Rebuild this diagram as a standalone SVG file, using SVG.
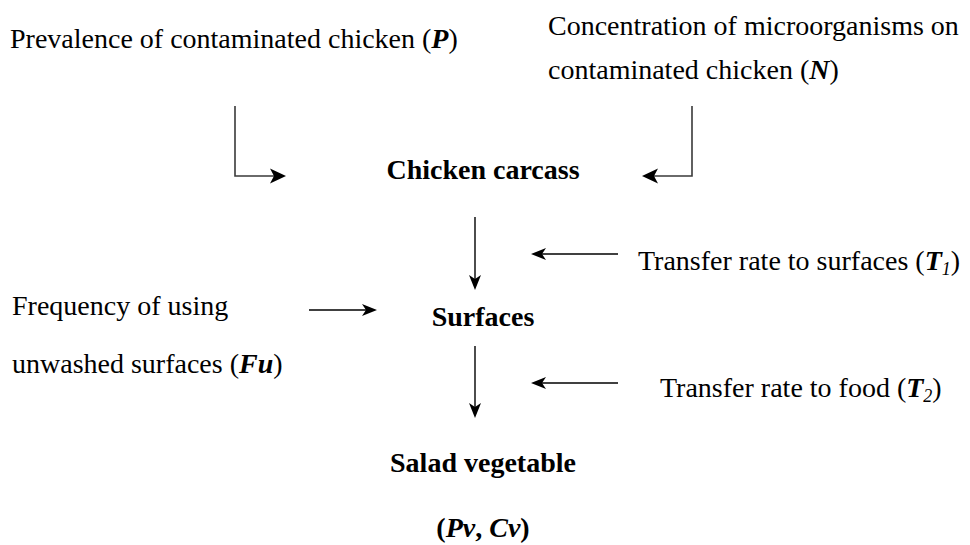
<svg xmlns="http://www.w3.org/2000/svg" width="970" height="545" viewBox="0 0 970 545">
  <style>
    text { font-family: "Liberation Serif", "Times New Roman", serif; font-size: 28px; fill: #000; }
    .b { font-weight: bold; }
    .bi { font-weight: bold; font-style: italic; }
    .c { text-anchor: middle; }
    .ln { fill: none; stroke: #000; stroke-width: 1.4; }
    .el { fill: none; stroke: #3a3a3a; stroke-width: 1.6; }
  </style>
  <defs>
    <marker id="ah" markerUnits="userSpaceOnUse" viewBox="-12 -7 16 14" markerWidth="16" markerHeight="14" refX="0" refY="0" orient="auto">
      <path d="M4,0 L-11,-6 L-7,0 L-11,6 Z" fill="#000"/>
    </marker>
    <marker id="ahL" markerUnits="userSpaceOnUse" viewBox="-14 -8 18 16" markerWidth="18" markerHeight="16" refX="0" refY="0" orient="auto">
      <path d="M4,0 L-12,-7.5 L-8,0 L-12,7.5 Z" fill="#000"/>
    </marker>
  </defs>

  <g id="connectors">
    <path class="el" d="M235,106 V176 H282" marker-end="url(#ahL)"/>
    <path class="el" d="M692,106 V176 H646" marker-end="url(#ahL)"/>
    <path class="ln" d="M475,217 V286" marker-end="url(#ah)"/>
    <path class="ln" d="M618,254 H535" marker-end="url(#ah)"/>
    <path class="ln" d="M309,310 H373" marker-end="url(#ah)"/>
    <path class="ln" d="M475,346 V414" marker-end="url(#ah)"/>
    <path class="ln" d="M618,383 H535" marker-end="url(#ah)"/>
  </g>

  <g id="node-prevalence">
    <text x="10" y="48">Prevalence of contaminated chicken (<tspan class="bi">P</tspan>)</text>
  </g>
  <g id="node-concentration">
    <text x="548" y="35">Concentration of microorganisms on</text>
    <text x="548" y="79">contaminated chicken (<tspan class="bi">N</tspan>)</text>
  </g>
  <g id="node-chicken">
    <text class="b c" x="483" y="179">Chicken carcass</text>
  </g>
  <g id="node-t1">
    <text x="638" y="270">Transfer rate to surfaces (<tspan class="bi">T</tspan><tspan font-style="italic" font-size="18" dy="5">1</tspan><tspan dy="-5">)</tspan></text>
  </g>
  <g id="node-frequency">
    <text x="12" y="315">Frequency of using</text>
    <text x="12" y="373">unwashed surfaces (<tspan class="bi">Fu</tspan>)</text>
  </g>
  <g id="node-surfaces">
    <text class="b c" x="483" y="326">Surfaces</text>
  </g>
  <g id="node-t2">
    <text x="660" y="397">Transfer rate to food (<tspan class="bi">T</tspan><tspan font-style="italic" font-size="18" dy="5">2</tspan><tspan dy="-5">)</tspan></text>
  </g>
  <g id="node-salad">
    <text class="b c" x="483" y="472">Salad vegetable</text>
    <text class="b c" x="483" y="537">(<tspan font-style="italic">Pv</tspan>, <tspan font-style="italic">Cv</tspan>)</text>
  </g>
</svg>
